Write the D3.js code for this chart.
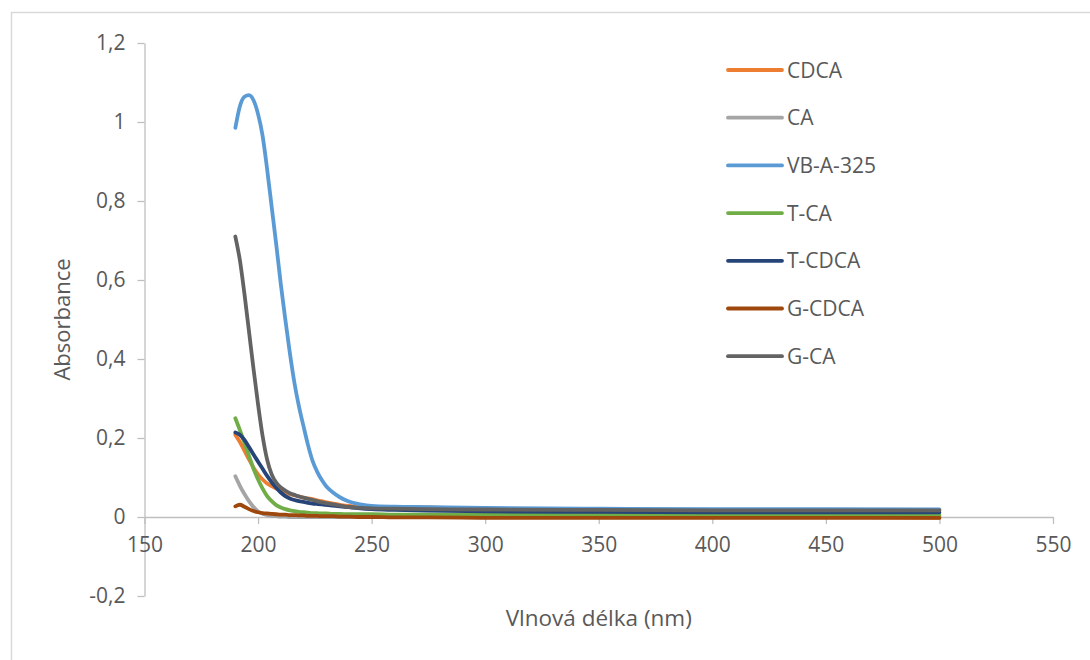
<!DOCTYPE html>
<html>
<head>
<meta charset="utf-8">
<script src="https://cdn.jsdelivr.net/npm/d3@7"></script>
<style>
  html, body { margin: 0; padding: 0; background: #fff; }
  svg { display: block; }
  text { font-family: "Open Sans", "Noto Sans", sans-serif; fill: #595959; }
</style>
</head>
<body>
<svg id="chart" width="1090" height="660"></svg>
<script>
// Wavelengths (nm) shared by every spectrum
const wavelengths = [190,192,194,196,198,200,202,204,206,208,210,212,214,216,218,220,222,224,226,228,230,233,236,240,245,250,260,275,300,350,400,450,500];

// Absorbance per sample
const cdca   = [0.208,0.19,0.168,0.146,0.125,0.108,0.095,0.085,0.078,0.072,0.067,0.062,0.058,0.055,0.052,0.049,0.047,0.045,0.042,0.04,0.037,0.034,0.031,0.028,0.026,0.025,0.025,0.024,0.02,0.012,0.005,0.001,-0.002];
const ca     = [0.103,0.079,0.058,0.04,0.025,0.014,0.008,0.005,0.003,0.002,0.001,0.001,0.0,0.0,0.0,0.0,0.0,0.0,0.0,0.0,0.0,0.0,0.0,0.0,0.0,0.0,0.0,0.001,0.001,0.001,0.001,0.001,0.001];
const vbA325 = [0.985,1.04,1.064,1.068,1.055,1.02,0.965,0.88,0.785,0.69,0.59,0.5,0.415,0.34,0.28,0.23,0.182,0.142,0.115,0.094,0.078,0.062,0.05,0.039,0.032,0.028,0.026,0.025,0.023,0.021,0.02,0.02,0.019];
const tCa    = [0.25,0.22,0.188,0.155,0.122,0.095,0.072,0.053,0.04,0.03,0.024,0.02,0.017,0.015,0.013,0.012,0.011,0.01,0.0095,0.009,0.009,0.008,0.008,0.007,0.007,0.007,0.006,0.006,0.006,0.005,0.005,0.005,0.005];
const tCdca  = [0.214,0.208,0.195,0.177,0.158,0.14,0.122,0.104,0.088,0.074,0.062,0.053,0.047,0.043,0.04,0.038,0.036,0.034,0.033,0.032,0.031,0.029,0.027,0.025,0.022,0.02,0.018,0.016,0.014,0.013,0.012,0.012,0.012];
const gCdca  = [0.027,0.031,0.026,0.02,0.015,0.012,0.01,0.009,0.008,0.007,0.006,0.006,0.005,0.005,0.004,0.004,0.003,0.003,0.003,0.002,0.002,0.002,0.001,0.001,0.0,0.0,-0.001,-0.001,-0.002,-0.002,-0.002,-0.002,-0.002];
const gCa    = [0.71,0.65,0.565,0.47,0.375,0.285,0.205,0.145,0.108,0.087,0.075,0.067,0.06,0.056,0.052,0.049,0.046,0.043,0.04,0.037,0.035,0.032,0.029,0.025,0.023,0.022,0.021,0.02,0.019,0.018,0.017,0.017,0.017];

const seriesNames  = ["CDCA", "CA", "VB-A-325", "T-CA", "T-CDCA", "G-CDCA", "G-CA"];
const seriesValues = [cdca, ca, vbA325, tCa, tCdca, gCdca, gCa];
const seriesColors = ["#ED7D31", "#A5A5A5", "#5B9BD5", "#70AD47", "#264478", "#9E480E", "#636363"];

const xTicks = [150, 200, 250, 300, 350, 400, 450, 500, 550];
const yTicks = [-0.2, 0, 0.2, 0.4, 0.6, 0.8, 1, 1.2];

const svg = d3.select("#chart");

// Outer chart frame
svg.append("rect")
  .attr("x", 11.5).attr("y", 12.5)
  .attr("width", 1200).attr("height", 800)
  .attr("fill", "none").attr("stroke", "#D9D9D9").attr("stroke-width", 1.5);

const x = d3.scaleLinear().domain([150, 550]).range([144.5, 1053]);
const y = d3.scaleLinear().domain([-0.2, 1.2]).range([596, 43]);

const locale = d3.formatLocale({ decimal: ",", thousands: " ", grouping: [3], currency: ["", ""], minus: "-" });
const fmt = locale.format("~g");

const labelSize = 21;

// Y axis
const yAxis = svg.append("g")
  .attr("transform", `translate(${x(150)},0)`)
  .call(d3.axisLeft(y).tickValues(yTicks).tickFormat(fmt).tickSizeInner(7).tickSizeOuter(0).tickPadding(12));
yAxis.selectAll("path, line").attr("stroke", "#BFBFBF").attr("stroke-width", 1.3);
yAxis.selectAll("text").attr("font-size", labelSize).style("fill", "#595959").style("font-family", "'Open Sans', sans-serif");

// X axis at zero absorbance
const xAxis = svg.append("g")
  .attr("transform", `translate(0,${y(0)})`)
  .call(d3.axisBottom(x).tickValues(xTicks).tickFormat(d3.format("d")).tickSizeInner(7).tickSizeOuter(0).tickPadding(13));
xAxis.selectAll("path, line").attr("stroke", "#BFBFBF").attr("stroke-width", 1.3);
xAxis.selectAll("text").attr("font-size", labelSize).style("fill", "#595959").style("font-family", "'Open Sans', sans-serif");

// Axis titles
svg.append("text")
  .attr("transform", `translate(70,${(y(-0.2) + y(1.2)) / 2}) rotate(-90)`)
  .attr("text-anchor", "middle")
  .attr("font-size", 22)
  .text("Absorbance");

svg.append("text")
  .attr("x", (x(150) + x(550)) / 2)
  .attr("y", 626)
  .attr("text-anchor", "middle")
  .attr("font-size", 22.5)
  .text("Vlnová délka (nm)");

// Spectra
const line = d3.line()
  .x((d, i) => x(wavelengths[i]))
  .y(d => y(d))
  .curve(d3.curveMonotoneX);

svg.append("g").selectAll("path")
  .data(seriesValues)
  .join("path")
  .attr("d", d => line(d))
  .attr("fill", "none")
  .attr("stroke", (d, i) => seriesColors[i])
  .attr("stroke-width", 3.8)
  .attr("stroke-linejoin", "round")
  .attr("stroke-linecap", "round");

// Legend
const legend = svg.append("g").selectAll("g")
  .data(seriesNames)
  .join("g")
  .attr("transform", (d, i) => `translate(728,${70 + i * 47.7})`);

legend.append("line")
  .attr("x1", 0).attr("x2", 54)
  .attr("stroke", (d, i) => seriesColors[i])
  .attr("stroke-width", 3.8)
  .attr("stroke-linecap", "round");

legend.append("text")
  .attr("x", 59).attr("y", 7.5)
  .attr("font-size", 21)
  .text(d => d);
</script>
</body>
</html>
